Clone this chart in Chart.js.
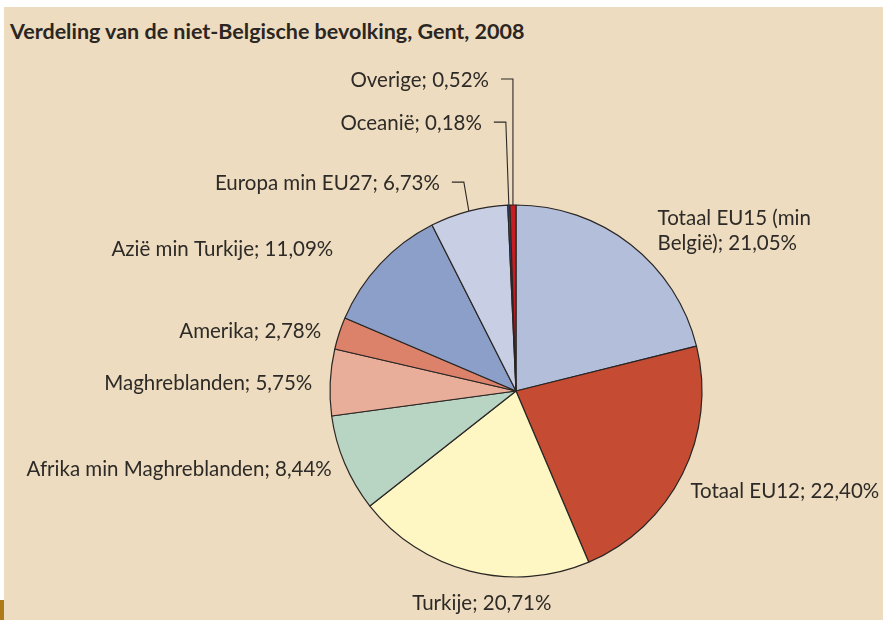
<!DOCTYPE html>
<html>
<head>
<meta charset="utf-8">
<script src="https://cdn.jsdelivr.net/npm/chart.js@4.4.0/dist/chart.umd.min.js"></script>
<style>
  body { margin: 0; background: #fff; width: 883px; height: 620px; overflow: hidden; position: relative; font-family: Lato, sans-serif; }
  #panel { position: absolute; left: 4px; top: 7px; width: 879px; height: 613px; background: #EDDCBF; }
  #title { position: absolute; left: 6px; top: 12px; font-weight: bold; font-size: 21.5px; line-height: 25px; color: #2b2622; white-space: nowrap; }
  #mark { position: absolute; left: 0; top: 600px; width: 4px; height: 20px; background: #B07A1A; }
  canvas { position: absolute; left: 0; top: 0; }
</style>
</head>
<body>
<div id="panel">
  <div id="title">Verdeling van de niet-Belgische bevolking, Gent, 2008</div>
  <canvas id="pie" width="879" height="613"></canvas>
</div>
<div id="mark"></div>
<script>
const categories = ['Totaal EU15 (min België)', 'Totaal EU12', 'Turkije', 'Afrika min Maghreblanden',
  'Maghreblanden', 'Amerika', 'Azië min Turkije', 'Europa min EU27', 'Oceanië', 'Overige'];
const shares = [21.05, 22.40, 20.71, 8.44, 5.75, 2.78, 11.09, 6.73, 0.18, 0.52];
const sliceColors = ['#B2BEDA', '#C64B33', '#FEF7C3', '#B8D4C3', '#E8AE99', '#DC826B', '#8C9FC8', '#C8CEE3', '#2D5BA6', '#C51D22'];

// where each label sits, relative to the middle of its slice's outer edge
const labelPlace = [
  { dx: 27, dy: -26, align: 'left', wrap: 160 },
  { dx: 8, dy: 17, align: 'left' },
  { dx: 12, dy: 32, align: 'center' },
  { dx: -13, dy: 6, align: 'right' },
  { dx: -18, dy: 1, align: 'right' },
  { dx: -18, dy: -2, align: 'right' },
  { dx: -47, dy: -14, align: 'right' },
  { leader: [-5, -29] },
  { leader: [-3, -83] },
  { leader: [0, -126] }
];

const labelFont = '20.5px Lato';
const inkColor = '#2d2a27';

function fmt(v) {
  return v.toFixed(2).replace('.', ',') + '%';
}

function wrapText(ctx, text, maxWidth) {
  const words = text.split(' ');
  const lines = [];
  let line = '';
  words.forEach(w => {
    const test = line ? line + ' ' + w : w;
    if (line && ctx.measureText(test).width > maxWidth) {
      lines.push(line);
      line = w;
    } else {
      line = test;
    }
  });
  lines.push(line);
  return lines;
}

const sliceLabels = {
  id: 'sliceLabels',
  afterDatasetsDraw(chart) {
    const ctx = chart.ctx;
    const arcs = chart.getDatasetMeta(0).data;
    ctx.save();
    ctx.font = labelFont;
    ctx.fillStyle = inkColor;
    ctx.strokeStyle = inkColor;
    ctx.lineWidth = 1.1;
    ctx.textBaseline = 'middle';
    arcs.forEach((arc, i) => {
      const p = arc.getProps(['x', 'y', 'startAngle', 'endAngle', 'outerRadius'], true);
      const mid = (p.startAngle + p.endAngle) / 2;
      const ex = p.x + Math.cos(mid) * p.outerRadius;
      const ey = p.y + Math.sin(mid) * p.outerRadius;
      const text = categories[i] + '; ' + fmt(shares[i]);
      const place = labelPlace[i];
      if (place.leader) {
        const bx = ex + place.leader[0];
        const by = ey + place.leader[1];
        ctx.beginPath();
        ctx.moveTo(ex, ey);
        ctx.lineTo(bx, by);
        ctx.lineTo(bx - 12, by);
        ctx.stroke();
        ctx.textAlign = 'right';
        ctx.fillText(text, bx - 24, by + 1);
        return;
      }
      ctx.textAlign = place.align;
      const lines = place.wrap ? wrapText(ctx, text, place.wrap) : [text];
      lines.forEach((ln, k) => {
        ctx.fillText(ln, ex + place.dx, ey + place.dy + k * 25);
      });
    });
    ctx.restore();
  }
};

document.addEventListener('DOMContentLoaded', () => {
  new Chart(document.getElementById('pie').getContext('2d'), {
    type: 'pie',
    data: {
      labels: categories,
      datasets: [{
        data: shares,
        backgroundColor: sliceColors,
        borderColor: '#2a2624',
        borderWidth: 1.2
      }]
    },
    options: {
      responsive: false,
      animation: false,
      events: [],
      radius: 186,
      layout: { padding: { left: 326, right: 181, top: 198, bottom: 43 } },
      plugins: {
        legend: { display: false },
        tooltip: { enabled: false }
      }
    },
    plugins: [sliceLabels]
  });
});
</script>
</body>
</html>
